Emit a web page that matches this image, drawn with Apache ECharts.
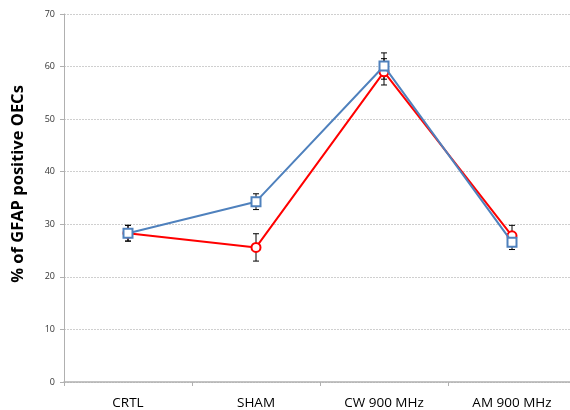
<!DOCTYPE html>
<html><head><meta charset="utf-8">
<script src="https://cdn.jsdelivr.net/npm/echarts@6/dist/echarts.min.js"></script>
<style>html,body{margin:0;padding:0;background:#fff;overflow:hidden}#c{width:570px;height:410px}</style>
</head><body><div id="c"></div>
<script>
var categories = ['CRTL', 'SHAM', 'CW 900 MHz', 'AM 900 MHz'];
var redValues = [28.3, 25.6, 59.0, 27.8];
var redErrors = [1.5, 2.6, 2.5, 2.0];
var blueValues = [28.3, 34.3, 60.1, 26.6];
var blueErrors = [1.5, 1.5, 2.5, 1.4];
var yTicks = [0, 10, 20, 30, 40, 50, 60, 70];
var yTitle = '% of GFAP positive OECs';

function errData(vals, errs) {
  return vals.map(function (v, i) { return [i, v - errs[i], v + errs[i]]; });
}
function errRender(params, api) {
  var x = api.value(0);
  var lo = api.coord([x, api.value(1)]);
  var hi = api.coord([x, api.value(2)]);
  var w = 3;
  var st = { stroke: '#000', lineWidth: 1 };
  return {
    type: 'group',
    children: [
      { type: 'line', shape: { x1: lo[0], y1: lo[1], x2: hi[0], y2: hi[1] }, style: st },
      { type: 'line', shape: { x1: lo[0] - w, y1: lo[1], x2: lo[0] + w, y2: lo[1] }, style: st },
      { type: 'line', shape: { x1: hi[0] - w, y1: hi[1], x2: hi[0] + w, y2: hi[1] }, style: st }
    ]
  };
}

var chart = echarts.init(document.getElementById('c'));
chart.setOption({
  animation: false,
  grid: { left: 64, width: 512, top: 14, height: 368, containLabel: false, outerBoundsMode: 'none' },
  graphic: [{
    type: 'text', x: 18, y: 184, rotation: Math.PI / 2,
    style: { text: yTitle, fill: '#000', font: 'bold 16.5px "Open Sans"', align: 'center', verticalAlign: 'middle' }
  }],
  xAxis: {
    type: 'category',
    data: categories,
    boundaryGap: true,
    axisLine: { lineStyle: { color: '#b0b0b0', width: 1.5 } },
    axisTick: { show: true, alignWithLabel: false, length: 4, lineStyle: { color: '#b0b0b0' } },
    axisLabel: { color: '#000', fontSize: 13.5, fontFamily: 'Open Sans', margin: 14 }
  },
  yAxis: {
    type: 'value',
    min: yTicks[0],
    max: yTicks[yTicks.length - 1],
    interval: 10,
    axisLine: { show: true, lineStyle: { color: '#b0b0b0', width: 1 } },
    axisTick: { show: true, length: 4, lineStyle: { color: '#b0b0b0' } },
    axisLabel: { color: '#333', fontSize: 9, fontFamily: 'Open Sans', margin: 9 },
    splitLine: { show: true, lineStyle: { color: '#cfcfcf', type: [2, 1], width: 1 } }
  },
  series: [
    { type: 'custom', data: errData(redValues, redErrors), renderItem: errRender, z: 1 },
    { type: 'custom', data: errData(blueValues, blueErrors), renderItem: errRender, z: 1 },
    {
      type: 'line', data: redValues, z: 3,
      lineStyle: { color: '#ff0000', width: 2 },
      symbol: 'circle', symbolSize: 9,
      itemStyle: { color: '#fff', borderColor: '#ff0000', borderWidth: 2 }
    },
    {
      type: 'line', data: blueValues, z: 4,
      lineStyle: { color: '#4f81bd', width: 2 },
      symbol: 'rect', symbolSize: 9,
      itemStyle: { color: '#fff', borderColor: '#4f81bd', borderWidth: 2 }
    }
  ]
});
</script>
</body></html>
